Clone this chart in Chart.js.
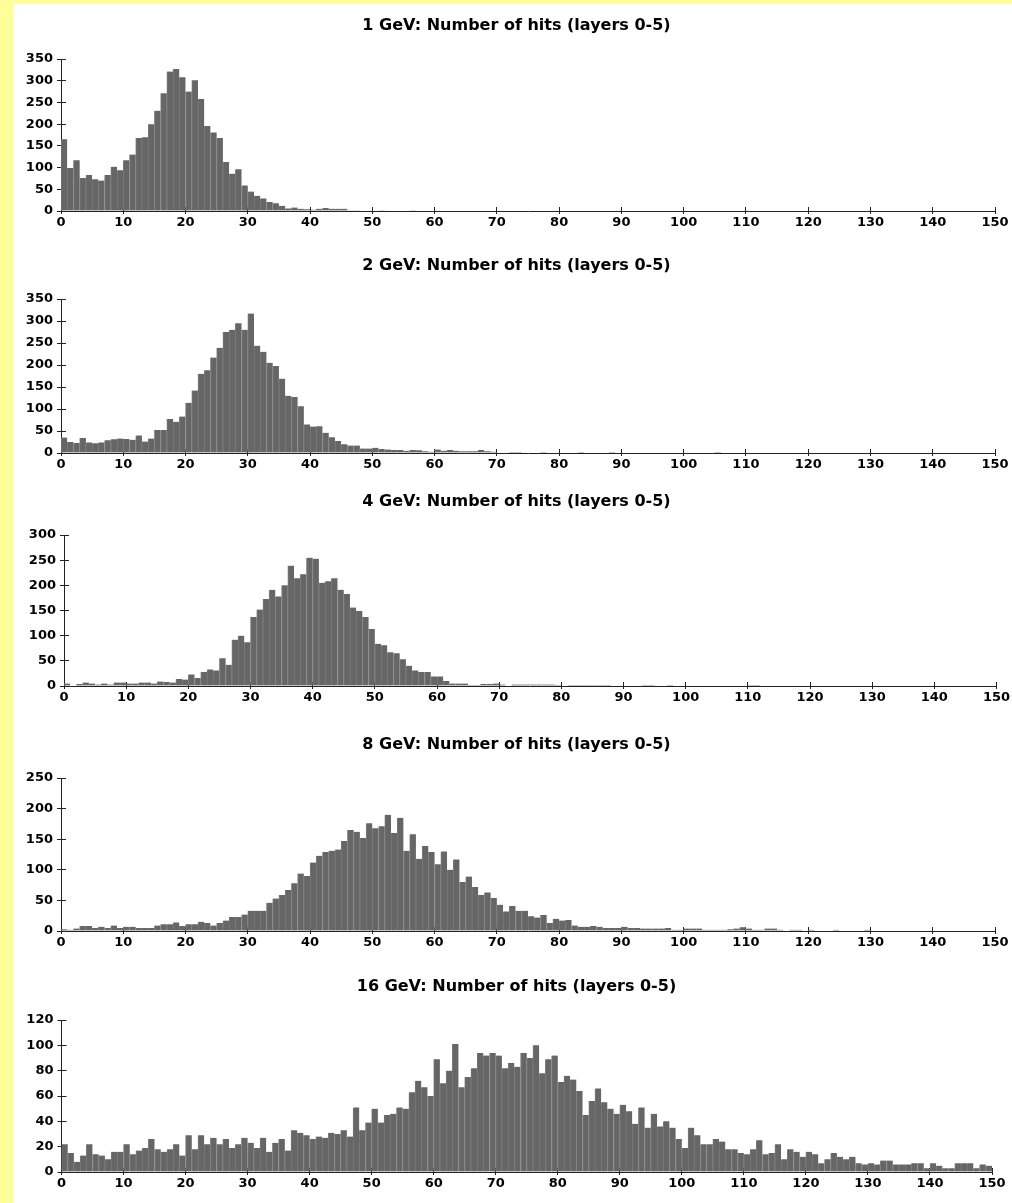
<!DOCTYPE html>
<html>
<head>
<meta charset="utf-8">
<title>Number of hits (layers 0-5)</title>
<script src="https://cdn.jsdelivr.net/npm/chart.js@4"></script>
<style>
  html, body { margin: 0; padding: 0; }
  body { width: 1012px; height: 1203px; background: #ffff99; position: relative; overflow: hidden; }
  #sheet { position: absolute; left: 13px; top: 4px; width: 999px; height: 1199px; background: #fff; }
  canvas { position: absolute; left: 13px; }
</style>
</head>
<body>
<div id="sheet"></div>
<script>
// beam energies, one panel each
const energies = ['1 GeV', '2 GeV', '4 GeV', '8 GeV', '16 GeV'];

// number of hits, bins of width 1 from 0 to 150
const hits1GeV = [
    165, 99, 117, 76, 83, 73, 70, 83, 102, 94,
    117, 130, 168, 170, 200, 231, 271, 321, 327, 308,
    275, 301, 258, 196, 181, 168, 113, 86, 96, 59,
    45, 35, 29, 21, 18, 12, 6, 8, 5, 4,
    3, 5, 7, 5, 5, 5, 2, 2, 1, 1,
    0, 2, 1, 0, 0, 1, 2, 1, 0, 0,
    0, 0, 0, 0, 0, 0, 0, 0, 0, 0,
    0, 0, 0, 0, 0, 0, 0, 0, 0, 0,
    0, 0, 0, 0, 0, 0, 0, 0, 0, 0,
    0, 0, 0, 0, 0, 0, 0, 0, 0, 0,
    0, 0, 0, 0, 0, 0, 0, 0, 0, 0,
    0, 0, 0, 0, 0, 0, 0, 0, 0, 0,
    0, 0, 0, 0, 0, 0, 0, 0, 0, 0,
    0, 0, 0, 0, 0, 0, 0, 0, 0, 0,
    0, 0, 0, 0, 0, 0, 0, 0, 0, 0
];
const hits2GeV = [
    35, 25, 23, 34, 24, 22, 24, 29, 31, 33,
    32, 30, 40, 26, 33, 52, 52, 77, 71, 83,
    114, 142, 180, 188, 217, 239, 275, 280, 295, 280,
    317, 244, 230, 205, 198, 169, 130, 127, 106, 65,
    60, 61, 46, 36, 27, 20, 17, 17, 10, 10,
    12, 9, 8, 7, 7, 5, 7, 6, 4, 3,
    8, 5, 7, 5, 4, 4, 4, 7, 4, 3,
    1, 0, 2, 2, 0, 0, 1, 2, 0, 0,
    1, 0, 0, 2, 0, 0, 0, 1, 2, 0,
    0, 0, 0, 0, 0, 0, 0, 0, 0, 0,
    0, 0, 0, 0, 0, 2, 1, 0, 0, 0,
    0, 0, 0, 0, 0, 0, 0, 0, 0, 0,
    0, 0, 0, 0, 0, 0, 0, 0, 0, 0,
    0, 0, 0, 0, 0, 0, 0, 0, 0, 0,
    0, 0, 0, 0, 0, 0, 0, 0, 0, 0
];
const hits4GeV = [
    5, 1, 4, 7, 5, 3, 5, 3, 7, 7,
    5, 5, 7, 7, 5, 9, 8, 7, 14, 13,
    23, 16, 28, 33, 31, 55, 42, 92, 100, 87,
    137, 152, 173, 191, 178, 200, 239, 214, 222, 255,
    253, 205, 208, 214, 191, 183, 156, 149, 137, 113,
    84, 81, 67, 65, 53, 40, 31, 28, 28, 19,
    19, 10, 5, 5, 5, 2, 2, 4, 4, 5,
    3, 1, 3, 3, 3, 3, 3, 3, 3, 2,
    0, 2, 2, 2, 2, 2, 2, 2, 0, 0,
    0, 0, 0, 2, 2, 0, 0, 2, 0, 0,
    0, 0, 0, 0, 0, 0, 0, 0, 0, 0,
    2, 2, 0, 0, 0, 0, 0, 0, 0, 0,
    0, 0, 0, 0, 0, 0, 0, 0, 0, 0,
    0, 0, 0, 0, 0, 0, 0, 0, 0, 0,
    0, 0, 0, 0, 0, 0, 0, 0, 0, 0
];
const hits8GeV = [
    3, 2, 4, 8, 8, 5, 7, 5, 9, 5,
    7, 7, 5, 5, 5, 9, 11, 11, 14, 8,
    11, 11, 15, 13, 9, 13, 17, 23, 23, 27,
    33, 33, 33, 46, 53, 59, 67, 78, 94, 90,
    112, 123, 129, 131, 133, 147, 165, 162, 152, 176,
    168, 171, 190, 160, 185, 131, 158, 118, 139, 129,
    109, 130, 100, 117, 80, 89, 72, 59, 63, 54,
    43, 32, 41, 33, 33, 24, 22, 26, 13, 20,
    17, 18, 9, 7, 7, 8, 7, 5, 5, 5,
    7, 5, 5, 4, 4, 4, 4, 5, 2, 2,
    4, 4, 4, 2, 2, 2, 2, 3, 4, 6,
    4, 2, 2, 4, 4, 2, 1, 2, 2, 0,
    2, 1, 0, 1, 2, 0, 1, 0, 1, 2,
    1, 0, 0, 1, 0, 0, 0, 1, 0, 0,
    0, 0, 0, 0, 0, 0, 0, 0, 0, 0
];
const hits16GeV = [
    22, 15, 8, 13, 22, 14, 13, 10, 16, 16,
    22, 14, 17, 19, 26, 18, 16, 18, 22, 13,
    29, 18, 29, 22, 27, 22, 26, 19, 22, 27,
    23, 19, 27, 16, 23, 26, 17, 33, 31, 29,
    26, 28, 27, 31, 30, 33, 28, 51, 33, 39,
    50, 39, 45, 46, 51, 50, 63, 72, 67, 60,
    89, 70, 80, 101, 67, 75, 82, 94, 92, 94,
    92, 82, 86, 83, 94, 90, 100, 78, 89, 92,
    71, 76, 73, 64, 45, 56, 66, 55, 50, 46,
    53, 48, 38, 51, 35, 46, 36, 40, 35, 26,
    19, 35, 29, 22, 22, 26, 24, 18, 18, 15,
    14, 18, 25, 14, 15, 22, 10, 18, 16, 12,
    16, 14, 7, 10, 15, 12, 10, 12, 7, 6,
    7, 6, 9, 9, 6, 6, 6, 7, 7, 3,
    7, 5, 3, 3, 7, 7, 7, 3, 6, 5
];
const series = [hits1GeV, hits2GeV, hits4GeV, hits8GeV, hits16GeV];

// axis ranges
const xMax = 150;
const xStep = 10;
const yMax = [350, 350, 300, 250, 120];
const yStep = [50, 50, 50, 50, 20];

// where each plot area sits on the page (px)
const frames = [
    { left: 61, right: 995, top: 59, bottom: 211 },
    { left: 61, right: 995, top: 299, bottom: 453 },
    { left: 64, right: 996.5, top: 535, bottom: 686 },
    { left: 61, right: 995, top: 778, bottom: 931 },
    { left: 61.5, right: 992, top: 1020, bottom: 1172 }
];

const axisColor = '#222';
const barColor = '#666666';
const tickFont = { family: 'DejaVu Sans', size: 13, weight: 'bold' };
const canvasLeft = 13;
const canvasWidth = 1007;

// short tick marks pointing into the plot, drawn under the bars
const innerTicks = {
    id: 'innerTicks',
    beforeDatasetsDraw(chart) {
        const { ctx, scales: { x, y } } = chart;
        ctx.save();
        ctx.strokeStyle = axisColor;
        ctx.lineWidth = 1;
        ctx.beginPath();
        x.ticks.forEach(t => {
            const px = Math.round(x.getPixelForValue(t.value) - 0.5) + 0.5;
            ctx.moveTo(px, x.top);
            ctx.lineTo(px, x.top - 4);
        });
        y.ticks.forEach(t => {
            const py = Math.round(y.getPixelForValue(t.value) - 0.5) + 0.5;
            ctx.moveTo(y.right, py);
            ctx.lineTo(y.right + 5, py);
        });
        ctx.stroke();
        ctx.restore();
    }
};

function drawPanel(i) {
    const f = frames[i];
    const top = f.top - 45;
    const height = f.bottom - f.top + 75;
    const canvas = document.createElement('canvas');
    canvas.width = canvasWidth;
    canvas.height = height;
    canvas.style.top = top + 'px';
    document.body.appendChild(canvas);

    new Chart(canvas.getContext('2d'), {
        type: 'bar',
        data: {
            datasets: [{
                data: series[i].map((v, k) => ({ x: k + 0.5, y: v })),
                backgroundColor: barColor,
                borderColor: '#7a7a7a',
                borderWidth: { left: 1, right: 0, top: 0, bottom: 0 },
                barPercentage: 1,
                categoryPercentage: 1
            }]
        },
        options: {
            responsive: false,
            animation: false,
            layout: { padding: 0 },
            plugins: {
                legend: { display: false },
                tooltip: { enabled: false },
                title: {
                    display: true,
                    text: energies[i] + ': Number of hits (layers 0-5)',
                    color: '#000',
                    font: { family: 'DejaVu Sans', size: 16, weight: 'bold' },
                    padding: { top: 2.4, bottom: 23.4 }
                }
            },
            scales: {
                x: {
                    type: 'linear',
                    min: 0,
                    max: xMax,
                    offset: false,
                    grid: { drawOnChartArea: false, offset: false, tickLength: 3, color: axisColor },
                    border: { color: axisColor },
                    ticks: { stepSize: xStep, autoSkip: false, maxRotation: 0, padding: 1, color: '#000', font: tickFont },
                    afterFit: s => {
                        s.height = 30;
                        s.paddingRight = canvasLeft + canvasWidth - f.right;
                    }
                },
                y: {
                    min: 0,
                    max: yMax[i],
                    grid: { drawOnChartArea: false, tickLength: 4, color: axisColor },
                    border: { color: axisColor },
                    ticks: { stepSize: yStep[i], autoSkip: false, padding: 4, color: '#000', font: tickFont },
                    afterFit: s => { s.width = f.left - canvasLeft; }
                }
            }
        },
        plugins: [innerTicks]
    });
}

energies.forEach((e, i) => drawPanel(i));
</script>
</body>
</html>
